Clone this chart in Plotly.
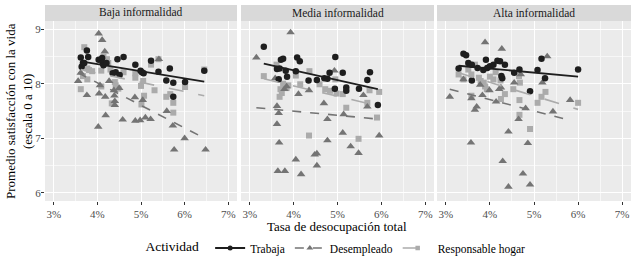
import plotly.graph_objects as go

# ---------------- data ----------------
panels = ["Baja informalidad", "Media informalidad", "Alta informalidad"]
series = ["Trabaja", "Desempleado", "Responsable hogar"]

# Baja informalidad
trab_x_baja = [3.62, 3.64, 3.67, 3.70, 3.76, 3.79, 4.03, 4.11, 4.12, 4.14, 4.21, 4.35, 4.42, 4.46, 4.51, 4.60, 4.87, 4.99, 5.02, 5.06, 5.23, 5.40, 5.58, 5.66, 5.74, 5.74, 6.01, 6.45]
trab_y_baja = [8.48, 8.31, 8.38, 8.38, 8.61, 8.49, 8.44, 8.47, 8.38, 8.34, 8.38, 8.19, 8.21, 8.45, 8.16, 8.49, 8.35, 8.24, 8.21, 8.19, 8.42, 8.22, 8.06, 8.28, 8.02, 7.76, 8.03, 8.24]
des_x_baja = [3.56, 3.62, 3.76, 4.03, 4.11, 4.17, 4.04, 4.02, 4.06, 4.18, 4.19, 4.27, 4.38, 4.39, 4.40, 4.40, 4.50, 4.58, 4.86, 4.87, 4.98, 5.04, 5.10, 5.22, 5.41, 5.59, 5.73, 5.76, 6.00, 6.48]
des_y_baja = [8.05, 8.20, 7.79, 8.92, 8.80, 8.59, 7.82, 7.21, 7.97, 7.76, 7.42, 8.05, 7.88, 7.78, 7.68, 7.61, 7.92, 7.34, 7.75, 7.32, 7.33, 7.70, 7.38, 7.35, 8.45, 7.50, 7.23, 6.79, 7.00, 6.79]
hog_x_baja = [3.62, 3.67, 3.70, 3.77, 3.77, 3.81, 3.88, 4.09, 4.09, 4.14, 4.22, 4.25, 4.30, 4.33, 4.40, 4.42, 4.48, 4.60, 4.87, 4.87, 5.00, 5.01, 5.05, 5.07, 5.23, 5.31, 5.40, 5.58, 5.67, 5.74, 5.74, 6.01, 6.45]
hog_y_baja = [7.90, 8.14, 8.67, 8.08, 8.28, 8.25, 8.23, 7.95, 8.24, 8.49, 8.45, 8.38, 8.26, 7.64, 8.03, 7.97, 7.91, 8.21, 8.19, 8.11, 7.96, 7.62, 8.05, 7.78, 8.35, 7.88, 8.45, 7.76, 7.81, 7.65, 7.47, 7.94, 8.26]

# Media informalidad
trab_x_media = [3.32, 3.62, 3.68, 3.71, 3.76, 3.82, 3.66, 3.85, 4.05, 4.08, 4.14, 4.34, 4.53, 4.70, 4.77, 4.82, 4.95, 4.94, 5.12, 5.20, 5.20, 5.49, 5.68, 5.74, 5.92]
trab_y_media = [8.68, 8.27, 8.28, 8.44, 8.46, 8.24, 8.08, 8.13, 8.23, 8.48, 8.41, 8.06, 8.07, 8.10, 8.09, 8.20, 8.49, 7.91, 8.20, 7.93, 7.87, 7.91, 8.07, 8.21, 7.61]
des_x_media = [3.15, 3.93, 3.58, 3.62, 3.66, 3.62, 3.67, 3.64, 3.80, 3.79, 3.84, 4.11, 4.35, 4.69, 4.77, 4.77, 4.05, 4.17, 4.48, 4.53, 4.53, 4.93, 5.12, 5.14, 5.30, 5.48, 5.59, 5.68, 5.95]
des_y_media = [8.48, 8.94, 8.10, 7.59, 7.46, 7.26, 6.92, 6.40, 6.40, 7.90, 7.95, 7.81, 7.88, 7.64, 7.35, 6.96, 6.61, 6.34, 6.70, 6.72, 6.50, 8.24, 7.10, 7.44, 6.85, 6.73, 7.79, 7.58, 7.05]
hog_x_media = [3.32, 3.61, 3.70, 3.68, 3.73, 3.76, 3.80, 3.84, 3.88, 4.05, 4.15, 4.36, 4.35, 4.59, 4.72, 4.83, 4.95, 4.98, 5.12, 5.20, 5.48, 5.68, 5.73, 5.95, 5.90]
hog_y_media = [8.14, 8.35, 7.90, 7.76, 7.83, 8.00, 7.96, 7.92, 7.97, 8.15, 7.99, 8.23, 7.05, 7.99, 7.90, 7.87, 8.08, 7.82, 7.81, 7.56, 6.99, 7.65, 7.88, 7.85, 7.38]

# Alta informalidad
trab_x_alta = [3.29, 3.40, 3.46, 3.51, 3.59, 3.59, 3.72, 3.85, 3.91, 3.94, 4.00, 4.08, 4.17, 4.23, 4.26, 4.28, 4.34, 4.55, 4.67, 4.91, 5.08, 5.17, 5.25, 6.00]
trab_y_alta = [8.28, 8.55, 8.52, 8.38, 8.06, 8.35, 8.29, 8.25, 8.44, 8.29, 8.32, 8.35, 8.42, 8.41, 8.14, 8.10, 8.35, 8.20, 8.26, 7.86, 8.25, 8.46, 8.10, 8.26]
des_x_alta = [3.09, 3.40, 3.57, 3.58, 3.66, 3.70, 3.78, 3.83, 3.89, 3.99, 4.14, 4.21, 4.27, 4.29, 4.25, 4.42, 4.42, 4.55, 4.65, 4.75, 4.81, 4.86, 4.91, 5.19, 5.30, 5.43, 5.82, 4.70]
des_y_alta = [7.76, 8.08, 6.92, 7.73, 7.52, 7.58, 7.98, 7.79, 8.76, 7.88, 7.67, 7.90, 8.64, 6.58, 7.93, 7.12, 6.11, 8.02, 7.35, 6.35, 7.55, 6.91, 6.15, 8.02, 8.50, 7.49, 7.70, 8.17]
hog_x_alta = [3.29, 3.40, 3.51, 3.58, 3.66, 3.75, 3.79, 3.86, 3.89, 3.93, 4.00, 4.08, 4.13, 4.24, 4.34, 4.25, 4.53, 4.66, 4.68, 4.67, 4.67, 4.91, 5.08, 5.17, 5.26, 6.00, 3.58]
hog_y_alta = [8.17, 8.08, 8.26, 8.17, 8.35, 8.11, 8.05, 8.02, 7.95, 7.90, 8.13, 8.08, 8.21, 8.06, 7.81, 7.72, 7.90, 8.14, 8.02, 7.70, 7.43, 7.17, 7.65, 7.76, 7.85, 7.65, 7.78]

# fitted linear trend (value at start / end of each series' x-range)
trend_trab = [[8.41, 8.04], [8.37, 7.90], [8.33, 8.13]]
trend_des = [[8.20, 6.99], [7.56, 7.35], [7.90, 7.33]]
trend_hog = [[8.26, 7.78], [8.09, 7.59], [8.20, 7.53]]

x_ticks = [3, 4, 5, 6, 7]
x_tick_labels = ["3%", "4%", "5%", "6%", "7%"]
y_ticks = [6, 7, 8, 9]

# ---------------- styling ----------------
FONT = "Liberation Serif"
colors = {"Trabaja": "#1e1e1e", "Desempleado": "#747474", "Responsable hogar": "#ababab"}
symbols = {"Trabaja": "circle", "Desempleado": "triangle-up", "Responsable hogar": "square"}
msize = {"Trabaja": 6.5, "Desempleado": 7.5, "Responsable hogar": 6}
dashes = {"Trabaja": "solid", "Desempleado": "dash", "Responsable hogar": "longdash"}
lwidth = {"Trabaja": 1.8, "Desempleado": 1.6, "Responsable hogar": 1.6}

data = {
    0: {"Trabaja": (trab_x_baja, trab_y_baja), "Desempleado": (des_x_baja, des_y_baja), "Responsable hogar": (hog_x_baja, hog_y_baja)},
    1: {"Trabaja": (trab_x_media, trab_y_media), "Desempleado": (des_x_media, des_y_media), "Responsable hogar": (hog_x_media, hog_y_media)},
    2: {"Trabaja": (trab_x_alta, trab_y_alta), "Desempleado": (des_x_alta, des_y_alta), "Responsable hogar": (hog_x_alta, hog_y_alta)},
}
trends = {"Trabaja": trend_trab, "Desempleado": trend_des, "Responsable hogar": trend_hog}

W, H = 636, 264
ML, MR, MT, MB = 45, 5, 21, 63
pw = W - ML - MR
ph = H - MT - MB
px_domains = [(45, 237), (241, 434), (437, 631)]
domains = [((a - ML) / pw, (b - ML) / pw) for a, b in px_domains]

fig = go.Figure()

order = ["Responsable hogar", "Desempleado", "Trabaja"]
for p in range(3):
    xa = "x" if p == 0 else f"x{p+1}"
    ya = "y" if p == 0 else f"y{p+1}"
    for s in order:
        xs, ys = data[p][s]
        fig.add_trace(go.Scatter(
            x=xs, y=ys, mode="markers", xaxis=xa, yaxis=ya, showlegend=False,
            marker=dict(symbol=symbols[s], size=msize[s], color=colors[s], line=dict(width=0)),
            hoverinfo="skip"))
    for s in order:
        xs, _ = data[p][s]
        fig.add_trace(go.Scatter(
            x=[min(xs), max(xs)], y=trends[s][p], mode="lines", xaxis=xa, yaxis=ya,
            showlegend=False, line=dict(color=colors[s], width=lwidth[s], dash=dashes[s]),
            hoverinfo="skip"))

# legend entries
for s in series:
    fig.add_trace(go.Scatter(
        x=[None], y=[None], mode="lines+markers", name=s,
        marker=dict(symbol=symbols[s], size=msize[s] - 1.5, color=colors[s]),
        line=dict(color=colors[s], width=lwidth[s], dash=dashes[s])))

axis_common = dict(
    showgrid=True, gridcolor="white", gridwidth=1.1, zeroline=False,
    ticks="outside", ticklen=3, tickcolor="#333333", tickwidth=1,
    tickfont=dict(family=FONT, size=11, color="#4d4d4d"), showline=False,
    automargin=False,
)
layout_axes = {}
for p in range(3):
    xk = "xaxis" if p == 0 else f"xaxis{p+1}"
    yk = "yaxis" if p == 0 else f"yaxis{p+1}"
    layout_axes[xk] = dict(
        axis_common, domain=list(domains[p]), range=[2.8, 7.2],
        tickvals=x_ticks, ticktext=x_tick_labels,
        minor=dict(tickvals=[3.5, 4.5, 5.5, 6.5], showgrid=True, gridcolor="#f7f7f7", gridwidth=0.6, ticks=""),
        anchor="y" if p == 0 else f"y{p+1}")
    ydict = dict(
        axis_common, domain=[0, 1], range=[5.85, 9.15], tickvals=y_ticks,
        minor=dict(tickvals=[6.5, 7.5, 8.5], showgrid=True, gridcolor="#f7f7f7", gridwidth=0.6, ticks=""),
        anchor="x" if p == 0 else f"x{p+1}")
    if p == 0:
        ydict.update(ticklabelstandoff=-2)
    else:
        ydict.update(showticklabels=False, ticks="", matches="y")
    layout_axes[yk] = ydict

fig.update_layout(**layout_axes)

shapes = []
annotations = []
for p in range(3):
    xr = "x domain" if p == 0 else f"x{p+1} domain"
    yr = "y domain" if p == 0 else f"y{p+1} domain"
    shapes.append(dict(type="rect", xref=xr, yref=yr, x0=0, x1=1, y0=1, y1=1 + 16 / ph,
                       fillcolor="#d9d9d9", line=dict(width=0), layer="below"))
    annotations.append(dict(text=panels[p], xref=xr, yref=yr, x=0.5, y=1 + 8 / ph,
                            xanchor="center", yanchor="middle", showarrow=False,
                            font=dict(family=FONT, size=11.5, color="#1a1a1a")))

annotations.append(dict(text="Tasa de desocupación total", xref="paper", yref="paper",
                        x=(337 - ML) / pw, y=-(226 - (MT + ph)) / ph, xanchor="center", yanchor="middle",
                        showarrow=False, font=dict(family=FONT, size=13, color="#000000")))
annotations.append(dict(text="Promedio satisfacción con la vida<br>(escala 0 a 10)", xref="paper", yref="paper",
                        x=(19 - ML) / pw, y=0.5, xanchor="center", yanchor="middle", textangle=-90,
                        showarrow=False, font=dict(family=FONT, size=13, color="#000000")))

fig.update_layout(
    width=W, height=H,
    margin=dict(l=ML, r=MR, t=MT, b=MB, autoexpand=False),
    paper_bgcolor="white", plot_bgcolor="#ebebeb",
    shapes=shapes, annotations=annotations,
    font=dict(family=FONT, color="#000000"),
    legend=dict(orientation="h", x=(337 - ML) / pw, xanchor="center", y=-(248 - (MT + ph)) / ph,
                yanchor="middle", font=dict(family=FONT, size=11.5, color="#000000"),
                title=dict(text="Actividad ", font=dict(family=FONT, size=13.5), side="left"),
                bgcolor="rgba(0,0,0,0)", itemwidth=30, tracegroupgap=0),
)

fig.write_html("out.html", config={"displayModeBar": False},
               post_script="document.body.style.margin='0px';document.body.style.overflow='hidden';")
